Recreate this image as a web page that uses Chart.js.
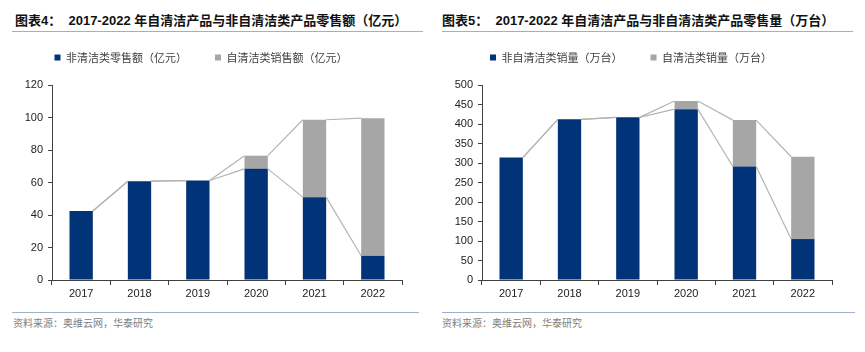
<!DOCTYPE html>
<html>
<head>
<meta charset="utf-8">
<script src="https://cdn.jsdelivr.net/npm/chart.js@4"></script>
<style>
    body { margin: 0; width: 865px; height: 352px; background: #fff; position: relative; overflow: hidden; font-family: "Liberation Sans", Arial, "Noto Sans CJK SC", sans-serif; }
    .title { position: absolute; top: 12px; font-size: 13px; font-weight: bold; color: #111; white-space: nowrap; line-height: 18px; padding-bottom: 1px; border-bottom: 1.5px solid #9fb0c8; }
    .box { position: absolute; top: 24px; width: 430px; height: 276px; }
    .source { position: absolute; top: 312px; border-top: 1.5px solid #9fb0c8; padding-top: 2px; font-size: 10px; color: #808080; font-family: "Noto Sans CJK SC", sans-serif; line-height: 15px; }
</style>
</head>
<body>
<div class="title" style="left:12px; width:408px; padding-left:3px;">图表4：&nbsp; 2017-2022 年自清洁产品与非自清洁类产品零售额（亿元）</div>
<div class="title" style="left:442px; width:411px;">图表5：&nbsp; 2017-2022 年自清洁产品与非自清洁类产品零售量（万台）</div>
<div class="box" style="left:0px;"><canvas id="salesChart"></canvas></div>
<div class="box" style="left:430px;"><canvas id="volumeChart"></canvas></div>
<div class="source" style="left:12px; width:406px; padding-left:1px;">资料来源：奥维云网，华泰研究</div>
<div class="source" style="left:442px; width:413px;">资料来源：奥维云网，华泰研究</div>

<script>
// Years on the x axis
const years = ['2017', '2018', '2019', '2020', '2021', '2022'];

// Retail sales (亿元)
const salesNonSelfClean = [42.5, 60.8, 61.2, 68.4, 51.0, 14.9];
const salesSelfClean = [0, 0, 0, 8.1, 47.6, 84.7];

// Retail volume (万台)
const volumeNonSelfClean = [314, 412, 417, 438, 291, 105];
const volumeSelfClean = [0, 0, 0, 21, 119, 211];

const navy = '#003377';
const grey = '#a6a6a6';

// Excel style series lines: join the top of each segment to the same segment in the next bar
const seriesLines = {
    id: 'seriesLines',
    afterDatasetsDraw(chart) {
        const ctx = chart.ctx;
        ctx.save();
        ctx.strokeStyle = '#b4b4b4';
        ctx.lineWidth = 1.2;
        chart.data.datasets.forEach((ds, di) => {
            const bars = chart.getDatasetMeta(di).data;
            for (let i = 0; i < bars.length - 1; i++) {
                const a = bars[i], b = bars[i + 1];
                ctx.beginPath();
                ctx.moveTo(a.x + a.width / 2, a.y);
                ctx.lineTo(b.x - b.width / 2, b.y);
                ctx.stroke();
            }
        });
        ctx.restore();
    }
};

// Push the plot area down a bit under the legend
const legendSpace = {
    id: 'legendSpace',
    beforeLayout(chart) {
        const legend = chart.legend;
        if (legend && !legend._patched) {
            const fit = legend.fit;
            legend.fit = function() {
                fit.call(this);
                this.height += 12;
            };
            legend._patched = true;
        }
    }
};

function makeChart(canvasId, labels, nonSelf, selfClean, max, step) {
    const ctx = document.getElementById(canvasId).getContext('2d');
    return new Chart(ctx, {
        type: 'bar',
        data: {
            labels: years,
            datasets: [
                { label: labels[0], data: nonSelf, backgroundColor: navy, barPercentage: 0.4, categoryPercentage: 1 },
                { label: labels[1], data: selfClean, backgroundColor: grey, barPercentage: 0.4, categoryPercentage: 1 }
            ]
        },
        options: {
            responsive: true,
            maintainAspectRatio: false,
            animation: false,
            layout: { padding: { right: 28 } },
            plugins: {
                tooltip: { enabled: false },
                legend: {
                    position: 'top',
                    labels: {
                        boxWidth: 6,
                        boxHeight: 6,
                        padding: 28,
                        color: '#404040',
                        font: { family: '"Noto Sans CJK SC", sans-serif', size: 11 }
                    }
                }
            },
            scales: {
                x: {
                    stacked: true,
                    grid: { drawOnChartArea: false, drawTicks: true, tickLength: 5, color: '#404040' },
                    border: { color: '#404040' },
                    ticks: { color: '#222', padding: 2, font: { family: '"Liberation Sans", Arial', size: 11 } },
                    afterFit(scale) { scale.height = 20; }
                },
                y: {
                    stacked: true,
                    min: 0,
                    max: max,
                    grid: { drawOnChartArea: false, drawTicks: true, tickLength: 4, color: '#404040' },
                    border: { color: '#404040' },
                    ticks: { stepSize: step, color: '#222', padding: 5, font: { family: '"Liberation Sans", Arial', size: 11 } },
                    afterFit(scale) { scale.width = 52; }
                }
            }
        },
        plugins: [seriesLines, legendSpace]
    });
}

document.addEventListener('DOMContentLoaded', () => {
    makeChart('salesChart', ['非清洁类零售额（亿元）', '自清洁类销售额（亿元）'], salesNonSelfClean, salesSelfClean, 120, 20);
    makeChart('volumeChart', ['非自清洁类销量（万台）', '自清洁类销量（万台）'], volumeNonSelfClean, volumeSelfClean, 500, 50);
});
</script>
</body>
</html>
